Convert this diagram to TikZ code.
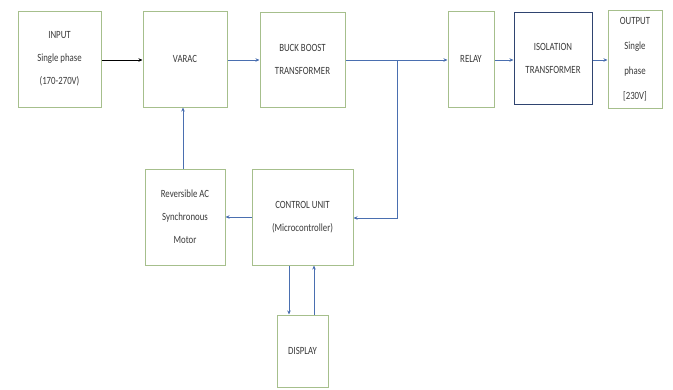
\documentclass[tikz,border=0pt]{standalone}
\usepackage{fontspec}
\setmainfont{Carlito}[FakeStretch=0.8]
\usetikzlibrary{arrows.meta}
\definecolor{boxgreen}{HTML}{A6BF8C}
\definecolor{isoblue}{HTML}{2F4470}
\definecolor{arrblue}{HTML}{4A6FB0}
\definecolor{txt}{HTML}{3A3A3A}
\tikzset{
  blk/.style={draw=boxgreen, line width=1pt, fill=white, inner sep=0pt, align=center,
    font=\fontsize{11}{23}\selectfont, text=txt},
  arr/.style={draw=arrblue, line width=0.9pt, -{Stealth[length=4pt,width=3.5pt]}},
  blkarr/.style={draw=black, line width=1pt, -{Stealth[length=4pt,width=3.5pt]}},
  ln/.style={draw=arrblue, line width=0.9pt}
}
\begin{document}
\begin{tikzpicture}[x=1pt,y=-1pt]
\useasboundingbox (0,0) rectangle (673,389);
\node[blk, minimum width=83pt, minimum height=96pt] (inp) at (59.5,59) {INPUT\\Single phase\\(170-270V)};
\node[blk, minimum width=84pt, minimum height=96pt] (var) at (185,59) {VARAC};
\node[blk, minimum width=85pt, minimum height=95pt] (bb) at (302.5,59.5) {BUCK BOOST\\TRANSFORMER};
\node[blk, minimum width=46pt, minimum height=96pt] (rel) at (471,59) {RELAY};
\node[blk, draw=isoblue, minimum width=78pt, minimum height=92pt] (iso) at (553,58) {ISOLATION\\TRANSFORMER};
\node[blk, minimum width=54pt, minimum height=98pt, font=\fontsize{11}{25}\selectfont] (out) at (635,59) {OUTPUT\\Single\\phase\\{[}230V{]}};
\node[blk, minimum width=80pt, minimum height=96pt] (mot) at (185,217) {Reversible AC\\Synchronous\\Motor};
\node[blk, minimum width=101pt, minimum height=96pt] (cu) at (302.5,217) {CONTROL UNIT\\(Microcontroller)};
\node[blk, minimum width=51pt, minimum height=72pt] (dis) at (302.5,351) {DISPLAY};
\coordinate (j) at (397,60);
\draw[blkarr] (inp.east |- 0,60) -- (var.west |- 0,60);
\draw[arr] (var.east |- 0,60) -- (bb.west |- 0,60);
\draw[arr] (bb.east |- 0,60) -- (rel.west |- 0,60);
\draw[arr] (rel.east |- 0,60) -- (iso.west |- 0,60);
\draw[arr] (iso.east |- 0,60) -- (out.west |- 0,60);
\draw[arr] (j) |- (cu.east |- 0,218);
\draw[arr] (cu.west |- 0,217) -- (mot.east |- 0,217);
\draw[arr] (mot.north -| 183,0) -- (var.south -| 183,0);
\draw[arr] (cu.south -| 289,0) -- (dis.north -| 289,0);
\draw[arr] (dis.north -| 314,0) -- (cu.south -| 314,0);
\end{tikzpicture}
\end{document}
